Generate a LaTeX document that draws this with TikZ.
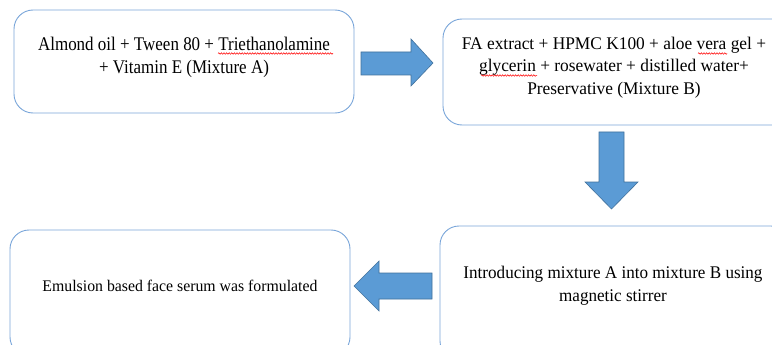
\documentclass[tikz,border=0pt]{standalone}
\usepackage{fontspec}
\setmainfont{Liberation Serif}
\usetikzlibrary{decorations.pathmorphing}
\definecolor{boxline}{HTML}{7AA6DA}
\definecolor{arrfill}{HTML}{5B9BD5}
\definecolor{arrline}{HTML}{41719C}
% #1 font size, #2 horizontal scale, #3 text
\newcommand{\cond}[3]{\scalebox{#2}[1]{\fontsize{#1}{22.2pt}\selectfont\begin{tabular}{@{}c@{}}#3\end{tabular}}}
\tikzset{
  box/.style={draw=boxline, line width=0.9pt, rounded corners=19pt, fill=white, inner sep=0pt},
  txt/.style={align=center, inner sep=0pt},
  blockarrow/.style={fill=arrfill, draw=arrline, line width=0.6pt, line join=miter},
  squig/.style={draw=red, line width=0.5pt, decorate, decoration={snake, amplitude=0.8pt, segment length=2.6pt}}
}
\begin{document}
\begin{tikzpicture}[x=1pt, y=-1pt]
\useasboundingbox (0,0) rectangle (772,345);
\fill[white] (0,0) rectangle (772,345);
\clip (0,0) rectangle (772,345);
% boxes
\node[box, minimum width=340pt, minimum height=103pt] (b1) at (184,61.5) {};
\node[box, minimum width=350pt, minimum height=106pt] (b2) at (618,72) {};
\node[box, minimum width=350pt, minimum height=134pt] (b3) at (615,293) {};
\node[box, minimum width=340pt, minimum height=126pt] (b4) at (180,293) {};
% texts
\node[txt] (t1) at (184,57.5) {\cond{19.3pt}{0.88}{Almond oil + Tween 80 + Triethanolamine\\+ Vitamin E (Mixture A)}};
\node[txt] (t2) at (614,67.5) {\cond{17.8pt}{0.975}{FA extract + HPMC K100 + aloe vera gel +\\glycerin + rosewater + distilled water+\\Preservative (Mixture B)}};
\node[txt] (t3) at (613,285.5) {\cond{17.8pt}{0.96}{Introducing mixture A into mixture B using\\magnetic stirrer}};
\node[txt] (t4) at (180,287) {\cond{16.2pt}{0.975}{Emulsion based face serum was formulated}};
% spell-check squiggles
\draw[squig] (218,53.5) -- (333,53.5);
\draw[squig] (698,53.5) -- (727,53.5);
\draw[squig] (481,75.5) -- (537,75.5);
% block arrows
\draw[blockarrow] (361,52) -- (411,52) -- (411,39) -- (433,63) -- (411,86) -- (411,75) -- (361,75) -- cycle;
\draw[blockarrow] (599,132) -- (624,132) -- (624,182) -- (638,182) -- (611.5,209) -- (585,182) -- (599,182) -- cycle;
\draw[blockarrow] (432,273) -- (379,273) -- (379,261) -- (354,286) -- (379,311) -- (379,299) -- (432,299) -- cycle;
\end{tikzpicture}
\end{document}
